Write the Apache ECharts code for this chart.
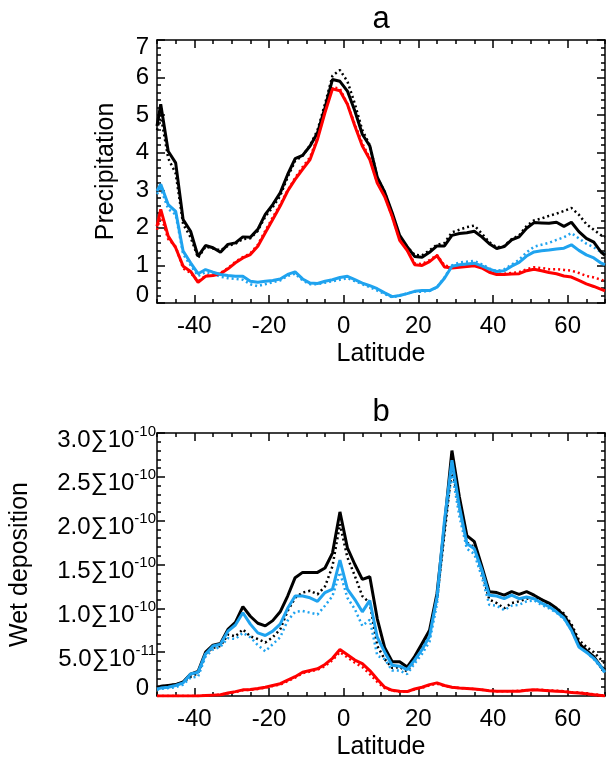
<!DOCTYPE html>
<html>
<head>
<meta charset="utf-8">
<script src="https://cdn.jsdelivr.net/npm/echarts@6/dist/echarts.min.js"></script>
<style>
  html, body { margin: 0; padding: 0; background: #fff; }
  #chart { width: 606px; height: 761px; }
</style>
</head>
<body>
<div id="chart"></div>
<script>
// latitude grid shared by both panels (edge points at -50 and 70)
const lat = [-50, -49, -47, -45, -43, -41, -39, -37, -35, -33, -31, -29, -27, -25, -23, -21, -19, -17, -15, -13,
  -11, -9, -7, -5, -3, -1, 1, 3, 5, 7, 9, 11, 13, 15, 17, 19, 21, 23, 25, 27, 29, 31, 33, 35, 37, 39, 41, 43,
  45, 47, 49, 51, 53, 55, 57, 59, 61, 63, 65, 67, 69, 70];

const majorX = [-40, -20, 0, 20, 40, 60];
const minorX = [-50, -45, -35, -30, -25, -15, -10, -5, 5, 10, 15, 25, 30, 35, 45, 50, 55, 65, 70];

// panel a: precipitation
const precipBlack = [4.71, 5.29, 4.04, 3.73, 2.22, 1.91, 1.24, 1.53, 1.47, 1.35, 1.56, 1.60, 1.76, 1.75, 1.96, 2.36,
  2.62, 2.93, 3.42, 3.84, 3.93, 4.18, 4.53, 5.2, 5.95, 5.9, 5.64, 5.11, 4.49, 4.18, 3.35, 2.95, 2.4, 1.8, 1.5, 1.24,
  1.22, 1.35, 1.52, 1.52, 1.8, 1.85, 1.87, 1.91, 1.76, 1.58, 1.45, 1.5, 1.68, 1.76, 1.99, 2.14, 2.13, 2.12, 2.15,
  2.04, 2.15, 1.9, 1.72, 1.62, 1.35, 1.27];
const precipBlackDot = [4.6, 5.0, 3.85, 3.45, 2.1, 1.75, 1.2, 1.5, 1.45, 1.4, 1.52, 1.58, 1.7, 1.72, 1.92, 2.3, 2.55,
  2.85, 3.35, 3.78, 3.92, 4.2, 4.6, 5.3, 6.05, 6.2, 5.9, 5.3, 4.6, 4.2, 3.35, 2.95, 2.35, 1.75, 1.5, 1.28, 1.27, 1.4,
  1.55, 1.6, 1.88, 1.95, 2.02, 2.06, 1.85, 1.62, 1.48, 1.52, 1.7, 1.8, 2.05, 2.2, 2.25, 2.32, 2.38, 2.45, 2.53, 2.35,
  2.1, 1.95, 1.8, 1.75];
const precipRed = [2.04, 2.49, 1.78, 1.47, 0.98, 0.84, 0.55, 0.71, 0.73, 0.78, 0.91, 1.07, 1.2, 1.29, 1.51, 1.87, 2.22,
  2.58, 2.98, 3.29, 3.56, 3.82, 4.36, 5.07, 5.7, 5.65, 5.29, 4.71, 4.18, 3.82, 3.19, 2.83, 2.3, 1.67, 1.4, 1.02, 1.0,
  1.1, 1.26, 0.96, 0.93, 0.95, 0.97, 0.99, 0.93, 0.82, 0.76, 0.76, 0.77, 0.78, 0.86, 0.9, 0.86, 0.81, 0.78, 0.72,
  0.69, 0.6, 0.51, 0.44, 0.36, 0.32];
const precipRedDot = [1.95, 2.35, 1.7, 1.5, 0.92, 0.8, 0.58, 0.72, 0.75, 0.8, 0.93, 1.1, 1.22, 1.32, 1.55, 1.92, 2.28,
  2.62, 3.0, 3.33, 3.62, 3.88, 4.4, 5.1, 5.75, 5.7, 5.3, 4.75, 4.25, 3.85, 3.2, 2.85, 2.3, 1.7, 1.42, 1.05, 1.04,
  1.14, 1.28, 1.0, 0.95, 0.97, 0.99, 1.0, 0.95, 0.85, 0.78, 0.78, 0.8, 0.82, 0.9, 0.95, 0.93, 0.9, 0.9, 0.88, 0.86,
  0.8, 0.72, 0.68, 0.62, 0.58];
const precipBlue = [2.98, 3.16, 2.62, 2.44, 1.38, 1.07, 0.78, 0.89, 0.82, 0.76, 0.73, 0.71, 0.71, 0.58, 0.55, 0.58,
  0.6, 0.64, 0.76, 0.83, 0.64, 0.53, 0.52, 0.58, 0.62, 0.68, 0.71, 0.62, 0.53, 0.46, 0.38, 0.27, 0.17, 0.2, 0.25,
  0.31, 0.33, 0.33, 0.42, 0.66, 0.98, 1.02, 1.04, 1.06, 0.99, 0.9, 0.84, 0.86, 0.98, 1.08, 1.25, 1.36, 1.39, 1.41,
  1.44, 1.46, 1.55, 1.4, 1.28, 1.2, 1.06, 1.02];
const precipBlueDot = [2.9, 3.05, 2.5, 2.35, 1.3, 1.0, 0.72, 0.82, 0.78, 0.7, 0.66, 0.64, 0.62, 0.5, 0.45, 0.5, 0.55,
  0.6, 0.72, 0.78, 0.6, 0.5, 0.5, 0.54, 0.58, 0.62, 0.66, 0.58, 0.5, 0.42, 0.33, 0.24, 0.15, 0.2, 0.25, 0.3, 0.3,
  0.32, 0.42, 0.68, 1.0, 1.08, 1.1, 1.12, 1.03, 0.92, 0.85, 0.9, 1.02, 1.15, 1.35, 1.5, 1.55, 1.6, 1.68, 1.75, 1.86,
  1.72, 1.58, 1.48, 1.35, 1.3];

// panel b: wet deposition, in units of 1e-10
const depBlack = [0.1, 0.11, 0.12, 0.13, 0.16, 0.25, 0.28, 0.5, 0.58, 0.6, 0.76, 0.84, 1.02, 0.91, 0.83, 0.8, 0.86,
  0.96, 1.14, 1.35, 1.41, 1.41, 1.41, 1.46, 1.63, 2.1, 1.69, 1.5, 1.33, 1.36, 0.88, 0.55, 0.39, 0.39, 0.33, 0.45,
  0.6, 0.75, 1.17, 1.95, 2.8, 2.27, 1.83, 1.76, 1.48, 1.19, 1.18, 1.15, 1.19, 1.16, 1.19, 1.15, 1.1, 1.06, 1.0,
  0.92, 0.79, 0.6, 0.52, 0.45, 0.33, 0.3];
const depBlackDot = [0.1, 0.11, 0.12, 0.13, 0.16, 0.22, 0.26, 0.48, 0.55, 0.57, 0.7, 0.68, 0.76, 0.68, 0.65, 0.61,
  0.67, 0.76, 0.97, 1.12, 1.18, 1.2, 1.16, 1.25, 1.48, 1.96, 1.58, 1.37, 1.14, 1.06, 0.57, 0.42, 0.32, 0.33, 0.28,
  0.4, 0.55, 0.7, 1.1, 1.85, 2.6, 2.15, 1.75, 1.7, 1.42, 1.1, 1.06, 1.0, 1.06, 1.08, 1.11, 1.12, 1.1, 1.05, 1.0,
  0.94, 0.82, 0.64, 0.56, 0.5, 0.41, 0.37];
const depRed = [0, 0, 0, 0, 0, 0, 0, 0.005, 0.01, 0.015, 0.035, 0.05, 0.07, 0.075, 0.085, 0.1, 0.12, 0.14, 0.18, 0.22,
  0.27, 0.29, 0.31, 0.36, 0.43, 0.53, 0.47, 0.41, 0.37, 0.29, 0.19, 0.1, 0.065, 0.055, 0.05, 0.08, 0.1, 0.13, 0.15,
  0.12, 0.1, 0.09, 0.085, 0.08, 0.07, 0.06, 0.055, 0.055, 0.053, 0.055, 0.065, 0.07, 0.065, 0.06, 0.055, 0.05,
  0.04, 0.035, 0.025, 0.015, 0.005, 0];
const depRedDot = [0, 0, 0, 0, 0, 0, 0, 0.005, 0.01, 0.015, 0.03, 0.045, 0.065, 0.07, 0.08, 0.095, 0.115, 0.13, 0.17,
  0.21, 0.26, 0.28, 0.3, 0.34, 0.41, 0.5, 0.44, 0.38, 0.33, 0.25, 0.16, 0.09, 0.06, 0.05, 0.05, 0.075, 0.095, 0.12,
  0.14, 0.115, 0.1, 0.09, 0.085, 0.08, 0.07, 0.06, 0.055, 0.055, 0.055, 0.06, 0.065, 0.07, 0.07, 0.065, 0.06, 0.055,
  0.045, 0.04, 0.03, 0.02, 0.01, 0.005];
const depBlue = [0.08, 0.09, 0.1, 0.12, 0.15, 0.25, 0.27, 0.48, 0.57, 0.59, 0.74, 0.81, 0.95, 0.82, 0.72, 0.69, 0.74,
  0.82, 1.0, 1.14, 1.14, 1.12, 1.08, 1.18, 1.22, 1.55, 1.22, 1.1, 0.96, 1.09, 0.67, 0.5, 0.35, 0.34, 0.3, 0.41, 0.53,
  0.68, 1.13, 2.0, 2.69, 2.16, 1.74, 1.68, 1.44, 1.15, 1.14, 1.11, 1.15, 1.11, 1.13, 1.11, 1.06, 1.02, 0.96, 0.89,
  0.75, 0.56, 0.5, 0.43, 0.33, 0.27];
const depBlueDot = [0.07, 0.08, 0.09, 0.1, 0.13, 0.21, 0.22, 0.45, 0.53, 0.56, 0.66, 0.65, 0.72, 0.67, 0.58, 0.51,
  0.59, 0.67, 0.86, 0.96, 0.97, 0.95, 0.93, 1.03, 1.14, 1.41, 1.12, 0.99, 0.8, 0.87, 0.46, 0.42, 0.29, 0.29, 0.25,
  0.37, 0.48, 0.62, 1.05, 1.9, 2.55, 2.05, 1.68, 1.62, 1.36, 1.04, 1.03, 0.98, 1.03, 1.04, 1.08, 1.09, 1.04, 1.0,
  0.95, 0.88, 0.75, 0.57, 0.5, 0.42, 0.32, 0.26];

const FONT = '"Liberation Sans", Arial, sans-serif';
const BLACK = '#000000';
const RED = '#ff0000';
const BLUE = '#1fa3ef';

const axisLine = { show: true, onZero: false, lineStyle: { color: BLACK, width: 1.5 } };
const tickLine = { color: BLACK, width: 1.5 };

function xAxesFor(grid, title) {
  const common = { gridIndex: grid, type: 'value', min: -50, max: 70, splitLine: { show: false } };
  return [
    Object.assign({}, common, {
      position: 'bottom',
      axisLine: axisLine,
      axisTick: { inside: true, length: 8, customValues: majorX, lineStyle: tickLine },
      axisLabel: { customValues: majorX, margin: 11, color: BLACK, fontSize: 24, fontFamily: FONT },
      name: 'Latitude', nameLocation: 'middle', nameGap: 39,
      nameTextStyle: { color: BLACK, fontSize: 25, fontFamily: FONT }
    }),
    Object.assign({}, common, {
      position: 'bottom',
      axisLine: { show: false, onZero: false },
      axisTick: { inside: true, length: 4, customValues: minorX, lineStyle: tickLine },
      axisLabel: { show: false }
    }),
    Object.assign({}, common, {
      position: 'top',
      axisLine: axisLine,
      axisTick: { inside: true, length: 8, customValues: majorX, lineStyle: tickLine },
      axisLabel: { show: false },
      name: title, nameLocation: 'middle', nameGap: 5,
      nameTextStyle: { color: BLACK, fontSize: 31, fontFamily: FONT }
    }),
    Object.assign({}, common, {
      position: 'top',
      axisLine: { show: false, onZero: false },
      axisTick: { inside: true, length: 4, customValues: minorX, lineStyle: tickLine },
      axisLabel: { show: false }
    })
  ];
}

function yAxesFor(grid, max, interval, name, nameGap, label) {
  const common = {
    gridIndex: grid, type: 'value', min: 0, max: max, interval: interval,
    splitLine: { show: false }, axisLine: axisLine,
    axisTick: { inside: true, length: 8, lineStyle: tickLine },
    minorTick: { show: true, splitNumber: 5, length: 4, lineStyle: tickLine }
  };
  return [
    Object.assign({}, common, {
      position: 'left',
      axisLabel: label,
      name: name, nameLocation: 'middle', nameGap: nameGap, nameRotate: 90,
      nameTextStyle: { color: BLACK, fontSize: 25, fontFamily: FONT }
    }),
    Object.assign({}, common, { position: 'right', axisLabel: { show: false } })
  ];
}

const precipLabel = {
  margin: 8, color: BLACK, fontSize: 24, fontFamily: FONT,
  formatter(v) {
    if (v === 0) return '{lo|0}';
    if (v === 7) return '{hi|7}';
    return '{n|' + v + '}';
  },
  rich: {
    n: { fontSize: 24, fontFamily: FONT, color: BLACK },
    lo: { fontSize: 24, fontFamily: FONT, color: BLACK, padding: [0, 0, 16, 0] },
    hi: { fontSize: 24, fontFamily: FONT, color: BLACK, padding: [14, 0, 0, 0] }
  }
};

// tick labels written the way the original plot prints them: 3.0∑10 with a raised exponent
const depLabel = {
  margin: 1, color: BLACK, fontSize: 24, fontFamily: FONT,
  formatter(v) {
    if (v === 0) return '{z|0}';
    const parts = (v * 1e-10).toExponential(1).split('e');
    return '{m|' + parts[0] + '\u221110}{s|' + parts[1] + '}';
  },
  rich: {
    z: { fontSize: 24, fontFamily: FONT, color: BLACK, padding: [0, 7, 16, 0] },
    m: { fontSize: 24, lineHeight: 34, fontFamily: FONT, color: BLACK, padding: [14, 0, 0, 0] },
    s: { fontSize: 15, fontFamily: FONT, color: BLACK, verticalAlign: 'top', padding: [8, 0, 0, 0] }
  }
};

function pairs(values) {
  return lat.map((x, i) => [x, values[i]]);
}

function line(name, values, color, dotted, xIdx, yIdx) {
  return {
    name: name, type: 'line', xAxisIndex: xIdx, yAxisIndex: yIdx,
    data: pairs(values), showSymbol: false, symbol: 'none', clip: true,
    lineStyle: dotted ? { color: color, width: 2.5, type: [2, 3] } : { color: color, width: 3 },
    z: dotted ? 2 : 3
  };
}

const myChart = echarts.init(document.getElementById('chart'), null, { renderer: 'canvas' });
const option = {
  backgroundColor: '#ffffff',
  animation: false,
  textStyle: { fontFamily: FONT },
  grid: [
    { left: 157, top: 40, width: 448, height: 263, containLabel: false },
    { left: 157, top: 433, width: 448, height: 263, containLabel: false }
  ],
  xAxis: xAxesFor(0, 'a').concat(xAxesFor(1, 'b')),
  yAxis: yAxesFor(0, 7, 1, 'Precipitation', 38, precipLabel)
    .concat(yAxesFor(1, 3, 0.5, 'Wet deposition', 124, depLabel)),
  series: [
    line('black dotted a', precipBlackDot, BLACK, true, 0, 0),
    line('black a', precipBlack, BLACK, false, 0, 0),
    line('red dotted a', precipRedDot, RED, true, 0, 0),
    line('red a', precipRed, RED, false, 0, 0),
    line('blue dotted a', precipBlueDot, BLUE, true, 0, 0),
    line('blue a', precipBlue, BLUE, false, 0, 0),
    line('black dotted b', depBlackDot, BLACK, true, 4, 2),
    line('black b', depBlack, BLACK, false, 4, 2),
    line('red dotted b', depRedDot, RED, true, 4, 2),
    line('red b', depRed, RED, false, 4, 2),
    line('blue dotted b', depBlueDot, BLUE, true, 4, 2),
    line('blue b', depBlue, BLUE, false, 4, 2)
  ]
};
myChart.setOption(option);
</script>
</body>
</html>
